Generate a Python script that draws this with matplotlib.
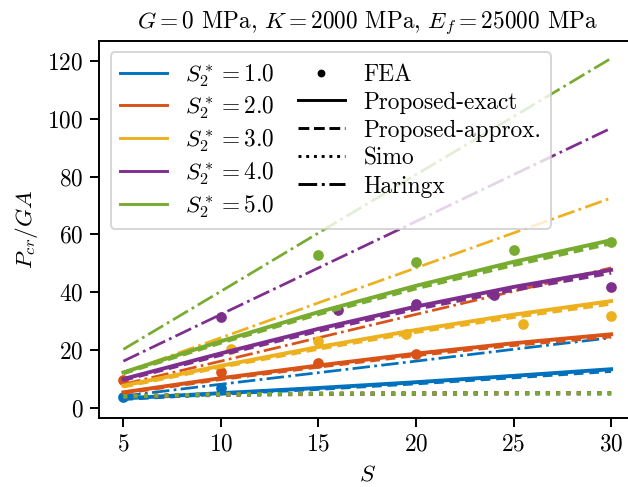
import numpy as np
import matplotlib
matplotlib.use('Agg')
import matplotlib.pyplot as plt
from matplotlib.lines import Line2D

plt.rcParams['font.family'] = 'serif'
plt.rcParams['font.serif'] = ['cmr10']
plt.rcParams['mathtext.fontset'] = 'cm'
plt.rcParams['axes.formatter.use_mathtext'] = True
plt.rcParams['font.size'] = 12

S = [5, 10, 15, 20, 25, 30]
S2 = [1.0, 2.0, 3.0, 4.0, 5.0]
colors = ['#0072BD', '#D95319', '#EDB120', '#7E2F8E', '#77AC30']

# proposed-exact
exact = [
    [3.2, 5.0, 6.8, 8.8, 11.0, 13.3],
    [5.3, 10.2, 14.6, 18.7, 22.3, 25.4],
    [7.6, 14.5, 21.0, 26.9, 32.2, 36.9],
    [9.9, 18.8, 27.3, 35.0, 41.8, 47.7],
    [12.2, 23.0, 33.1, 42.2, 50.5, 58.0],
]
# proposed-approx
approx = [
    [3.0, 4.8, 6.5, 8.4, 10.5, 12.7],
    [5.1, 9.9, 14.2, 18.2, 21.7, 24.7],
    [7.3, 14.1, 20.4, 26.2, 31.4, 36.0],
    [9.6, 18.3, 26.6, 34.2, 40.8, 46.7],
    [11.9, 22.5, 32.4, 41.3, 49.4, 56.9],
]
# Simo
simo = [
    [3.6, 4.4, 4.7, 4.8, 4.9, 4.9],
    [3.8, 4.5, 4.8, 4.9, 5.0, 5.0],
    [3.9, 4.6, 4.8, 4.9, 5.0, 5.0],
    [4.0, 4.6, 4.8, 4.9, 5.0, 5.0],
    [4.0, 4.6, 4.8, 4.9, 5.0, 5.0],
]
# Haringx
haringx = [
    [4.0, 8.1, 12.1, 16.1, 20.2, 24.2],
    [8.1, 16.1, 24.2, 32.3, 40.3, 48.4],
    [12.1, 24.2, 36.3, 48.4, 60.5, 72.6],
    [16.1, 32.3, 48.4, 64.5, 80.7, 96.8],
    [20.2, 40.3, 60.5, 80.7, 100.8, 121.0],
]
# FEA
fea_S = [
    [5, 10],
    [5, 10, 15, 20],
    [10.5, 15, 19.5, 25.5, 30],
    [10, 16, 20, 24, 30],
    [15, 20, 25, 30],
]
fea_P = [
    [3.8, 6.7],
    [9.5, 12.5, 15.6, 18.6],
    [20.3, 23.2, 25.6, 29.1, 31.9],
    [31.3, 33.8, 36.0, 38.9, 41.7],
    [53.0, 50.5, 54.5, 57.5],
]

fig = plt.figure(figsize=(628/140, 487/140), dpi=140)
ax = fig.add_axes([99/628, 1 - 418/487, (635.5 - 99)/628, (418 - 40.7)/487])

for i in range(len(S2)):
    c = colors[i]
    ax.plot(S, exact[i], '-', color=c, lw=2.0)
    ax.plot(S, approx[i], '--', color=c, lw=2.0, dashes=(2.5, 1.5))
    ax.plot(S, simo[i], ':', color=c, lw=2.0)
    ax.plot(S, haringx[i], '-.', color=c, lw=1.4)
    ax.plot(fea_S[i], fea_P[i], 'o', color=c, ms=4.5)

ax.set_xlim(3.75, 31.25)
ax.set_ylim(-3.6, 127.1)
ax.set_xticks([5, 10, 15, 20, 25, 30])
ax.set_yticks([0, 20, 40, 60, 80, 100, 120])
ax.set_xlabel('$S$')
ax.set_ylabel('$P_{cr}/GA$')
ax.set_title('$G = 0$ MPa, $K = 2000$ MPa, $E_f = 25000$ MPa', fontsize=12)
for sp in ax.spines.values():
    sp.set_linewidth(1.0)
ax.tick_params(width=1.0, length=4.5)

handles = [Line2D([], [], color=c, lw=1.5) for c in colors]
labels = ['$S_2^* = %.1f$' % s for s in S2]
handles += [
    Line2D([], [], color='k', marker='o', ls='none', ms=3),
    Line2D([], [], color='k', ls='-', lw=1.5),
    Line2D([], [], color='k', ls='--', lw=1.5),
    Line2D([], [], color='k', ls=':', lw=1.5),
    Line2D([], [], color='k', ls='-.', lw=1.5),
]
labels += ['FEA', 'Proposed-exact', 'Proposed-approx.', 'Simo', 'Haringx']
ax.legend(handles, labels, ncol=2, loc='upper left', fontsize=12,
          labelspacing=0.25, columnspacing=1.0, handlelength=2.0)

fig.savefig('out.png', dpi=140)
